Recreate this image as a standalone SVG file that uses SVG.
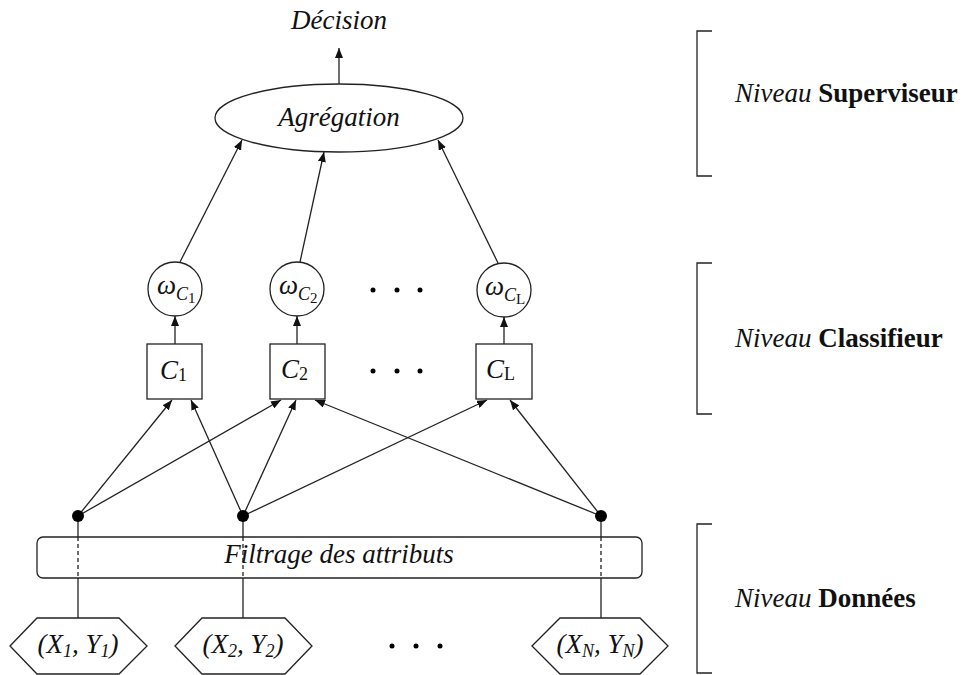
<svg xmlns="http://www.w3.org/2000/svg" width="963" height="675" viewBox="0 0 963 675">
<defs>
<marker id="ah" viewBox="0 0 10 8" refX="10" refY="4" markerWidth="10" markerHeight="8" markerUnits="userSpaceOnUse" orient="auto">
<path d="M0,0 L10,4 L0,8 Z" fill="#111"/>
</marker>
</defs>
<style>
.s{fill:#fff;stroke:#222;stroke-width:1.3}
.c{stroke:#222;stroke-width:1.3;fill:none}
.a{stroke:#222;stroke-width:1.3;fill:none;marker-end:url(#ah)}
.t{font-family:"Liberation Serif","Times New Roman",serif;font-size:27px;fill:#111}
.i{font-style:italic}
.b{font-weight:bold}
.sub{font-size:18px}
.sub2{font-size:15px}
.dot{fill:#000}
</style>
<rect width="963" height="675" fill="#fff"/>
<g id="decision"><text class="t i" x="339" y="29" text-anchor="middle">Décision</text></g>
<g id="agregation">
<ellipse class="s" cx="339" cy="118" rx="124" ry="34"/>
<text class="t i" x="339" y="126" text-anchor="middle">Agrégation</text>
</g>
<g id="w1">
<circle class="s" cx="175" cy="289" r="27"/>
<text class="t" x="157" y="294"><tspan class="i">ω</tspan><tspan class="i sub" dy="6">C</tspan><tspan class="sub2" dy="3">1</tspan></text>
</g>
<g id="w2">
<circle class="s" cx="297" cy="289" r="27"/>
<text class="t" x="279" y="294"><tspan class="i">ω</tspan><tspan class="i sub" dy="6">C</tspan><tspan class="sub2" dy="3">2</tspan></text>
</g>
<g id="wL">
<circle class="s" cx="504" cy="290" r="27"/>
<text class="t" x="485" y="295"><tspan class="i">ω</tspan><tspan class="i sub" dy="6">C</tspan><tspan class="sub2" dy="3">L</tspan></text>
</g>
<g id="dots1"><circle class="dot" cx="373" cy="290" r="2.5"/><circle class="dot" cx="397" cy="290" r="2.5"/><circle class="dot" cx="420" cy="290" r="2.5"/></g>
<g id="c1">
<rect class="s" x="147" y="344" width="55" height="55"/>
<text class="t" x="160" y="379"><tspan class="i">C</tspan><tspan class="sub" dy="2">1</tspan></text>
</g>
<g id="c2">
<rect class="s" x="270" y="344" width="55" height="55"/>
<text class="t" x="281" y="378"><tspan class="i">C</tspan><tspan class="sub" dy="2">2</tspan></text>
</g>
<g id="cL">
<rect class="s" x="476" y="344" width="56" height="55"/>
<text class="t" x="486" y="378"><tspan class="i">C</tspan><tspan class="sub" dy="2">L</tspan></text>
</g>
<g id="dots2"><circle class="dot" cx="373" cy="371" r="2.5"/><circle class="dot" cx="397" cy="371" r="2.5"/><circle class="dot" cx="420" cy="371" r="2.5"/></g>
<g id="filtrage">
<rect class="s" x="37" y="537" width="605" height="41" rx="6"/>
<text class="t i" x="339" y="563" text-anchor="middle">Filtrage des attributs</text>
</g>
<g id="d1">
<polygon class="s" points="10,646 37,618 119,618 147,646 119,674 37,674"/>
<text class="t i" x="78" y="653" text-anchor="middle">(X<tspan class="sub" dy="4">1</tspan><tspan dy="-4">, Y</tspan><tspan class="sub" dy="4">1</tspan><tspan dy="-4">)</tspan></text>
</g>
<g id="d2">
<polygon class="s" points="175,646 202,618 285,618 312,646 285,674 202,674"/>
<text class="t i" x="243" y="653" text-anchor="middle">(X<tspan class="sub" dy="4">2</tspan><tspan dy="-4">, Y</tspan><tspan class="sub" dy="4">2</tspan><tspan dy="-4">)</tspan></text>
</g>
<g id="dots3"><circle class="dot" cx="392" cy="646" r="2.5"/><circle class="dot" cx="416" cy="646" r="2.5"/><circle class="dot" cx="440" cy="646" r="2.5"/></g>
<g id="dN">
<polygon class="s" points="532,646 560,618 640,618 668,646 640,674 560,674"/>
<text class="t i" x="600" y="653" text-anchor="middle">(X<tspan class="sub" dy="4">N</tspan><tspan dy="-4">, Y</tspan><tspan class="sub" dy="4">N</tspan><tspan dy="-4">)</tspan></text>
</g>
<g id="connectors">
<line class="a" x1="339" y1="84" x2="339" y2="48"/>
<line class="a" x1="180" y1="262" x2="242" y2="140"/>
<line class="a" x1="300" y1="262" x2="324" y2="152"/>
<line class="a" x1="498" y1="263" x2="438" y2="140"/>
<line class="a" x1="175" y1="344" x2="175" y2="316"/>
<line class="a" x1="297" y1="344" x2="297" y2="316"/>
<line class="a" x1="504" y1="344" x2="504" y2="317"/>
<line class="a" x1="78" y1="516" x2="172" y2="400"/>
<line class="a" x1="78" y1="516" x2="281" y2="400"/>
<line class="a" x1="243" y1="516" x2="191" y2="400"/>
<line class="a" x1="243" y1="516" x2="296" y2="400"/>
<line class="a" x1="243" y1="516" x2="487" y2="400"/>
<line class="a" x1="601" y1="516" x2="315" y2="400"/>
<line class="a" x1="601" y1="516" x2="510" y2="400"/>
<line class="c" x1="78" y1="516" x2="78" y2="537"/>
<line class="c" x1="78" y1="537" x2="78" y2="578" stroke-dasharray="4,3"/>
<line class="c" x1="78" y1="578" x2="78" y2="618"/>
<line class="c" x1="243" y1="516" x2="243" y2="537"/>
<line class="c" x1="243" y1="537" x2="243" y2="578" stroke-dasharray="4,3"/>
<line class="c" x1="243" y1="578" x2="243" y2="618"/>
<line class="c" x1="601" y1="516" x2="601" y2="537"/>
<line class="c" x1="601" y1="537" x2="601" y2="578" stroke-dasharray="4,3"/>
<line class="c" x1="601" y1="578" x2="601" y2="618"/>
</g>
<g id="p1"><circle class="dot" cx="78" cy="516" r="6"/></g>
<g id="p2"><circle class="dot" cx="243" cy="516" r="6"/></g>
<g id="p3"><circle class="dot" cx="601" cy="516" r="6"/></g>
<g id="level-superviseur">
<path class="c" d="M712,31 H697 V176 H712" stroke-width="2"/>
<text class="t" x="735" y="102"><tspan class="i">Niveau</tspan> <tspan class="b">Superviseur</tspan></text>
</g>
<g id="level-classifieur">
<path class="c" d="M712,263 H697 V414 H712" stroke-width="2"/>
<text class="t" x="735" y="347"><tspan class="i">Niveau</tspan> <tspan class="b">Classifieur</tspan></text>
</g>
<g id="level-donnees">
<path class="c" d="M712,524 H697 V673 H712" stroke-width="2"/>
<text class="t" x="735" y="607"><tspan class="i">Niveau</tspan> <tspan class="b">Données</tspan></text>
</g>
</svg>
